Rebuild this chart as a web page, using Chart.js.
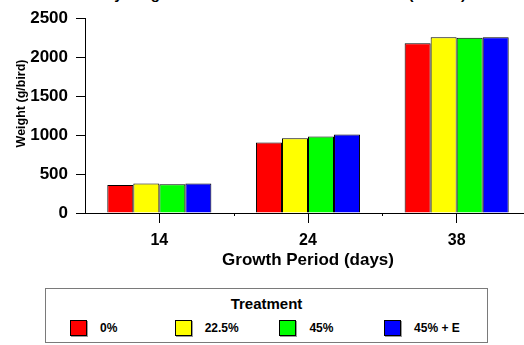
<!DOCTYPE html>
<html>
<head>
<meta charset="utf-8">
<script src="https://cdn.jsdelivr.net/npm/chart.js@4/dist/chart.umd.min.js"></script>
<style>
  html, body { margin:0; padding:0; background:#fff; }
  body { width:524px; height:345px; overflow:hidden; position:relative; font-family:"Liberation Sans", Arial, sans-serif; }
  #wrap { position:absolute; left:0; top:0; width:531px; height:275px; }
  #title { position:absolute; left:85px; top:-14px; font-weight:bold; font-size:15px; line-height:16px; white-space:nowrap; color:#000; }
  #legend { position:absolute; left:45px; top:288px; width:441px; height:53px; border:1px solid #7a7a7a; background:#fff; }
  #legend .lt { position:absolute; left:0; right:0; top:6px; text-align:center; font-weight:bold; font-size:15px; }
  #legend .it { position:absolute; top:31px; height:16px; }
  #legend .sw { position:absolute; left:0; top:0; width:15px; height:14px; border:1px solid #000; box-shadow:1px 1px 0 #9a9a9a; }
  #legend .lb { position:absolute; left:30px; top:0; font-weight:bold; font-size:12px; line-height:16px; white-space:nowrap; }
</style>
</head>
<body>
<div id="title">Body weight of broiler chickens fed the diets (means)</div>
<div id="wrap"><canvas id="c" width="531" height="275"></canvas></div>
<div id="legend"><div class="lt">Treatment</div></div>
<script>
const categories = ['14', '24', '38'];
const seriesNames = ['0%', '22.5%', '45%', '45% + E'];
const seriesColors = ['#ff0000', '#ffff00', '#00ff00', '#0000ff'];
const values0 = [360, 905, 2180];
const values225 = [378, 960, 2255];
const values45 = [368, 981, 2250];
const values45E = [380, 1006, 2255];
const yTicks = [0, 500, 1000, 1500, 2000, 2500];
const allValues = [values0, values225, values45, values45E];

const minorTicks = {
  id: 'minorTicks',
  afterDraw(chart) {
    const x = chart.scales.x, ctx = chart.ctx;
    ctx.save();
    ctx.strokeStyle = '#000';
    ctx.lineWidth = 1;
    for (let i = 0; i < categories.length - 1; i++) {
      const px = Math.round((x.getPixelForValue(i) + x.getPixelForValue(i + 1)) / 2) + 0.5;
      ctx.beginPath();
      ctx.moveTo(px, x.top);
      ctx.lineTo(px, x.top + 3);
      ctx.stroke();
    }
    ctx.restore();
  }
};

new Chart(document.getElementById('c'), {
  type: 'bar',
  data: {
    labels: categories,
    datasets: seriesNames.map((n, i) => ({
      label: n,
      data: allValues[i],
      backgroundColor: seriesColors[i],
      borderColor: '#000',
      borderWidth: 1,
      categoryPercentage: 0.70,
      barPercentage: 1.0
    }))
  },
  options: {
    responsive: false,
    animation: false,
    devicePixelRatio: 1,
    layout: { padding: { top: 15, left: 0, right: 0, bottom: 0 } },
    plugins: { legend: { display: false }, tooltip: { enabled: false }, title: { display: false } },
    scales: {
      x: {
        afterFit(s) { s.height = 62; },
        grid: { offset: false, drawOnChartArea: false, drawTicks: true, tickLength: 10, color: '#000' },
        border: { display: true, color: '#000', width: 1 },
        ticks: { color: '#000', font: { family: 'Liberation Sans', size: 16, weight: 'bold' }, padding: 8, maxRotation: 0 },
        title: { display: true, text: 'Growth Period (days)', color: '#000', font: { family: 'Liberation Sans', size: 17, weight: 'bold' }, padding: { top: 0, bottom: 4 } }
      },
      y: {
        min: 0, max: 2500,
        afterFit(s) { s.width = 85; },
        afterBuildTicks(s) { s.ticks = yTicks.map(v => ({ value: v })); },
        grid: { drawOnChartArea: false, drawTicks: true, tickLength: 9, color: '#000' },
        border: { display: true, color: '#000', width: 1 },
        ticks: { color: '#000', font: { family: 'Liberation Sans', size: 17, weight: 'bold' }, padding: 8, callback: v => String(v) },
        title: { display: true, text: '       Weight (g/bird)', color: '#000', font: { family: 'Liberation Sans', size: 12.5, weight: 'bold' }, padding: { top: 14, bottom: 0 } }
      }
    }
  },
  plugins: [minorTicks]
});

const lg = document.getElementById('legend');
seriesNames.forEach((n, i) => {
  const it = document.createElement('div');
  it.className = 'it';
  it.style.left = (24 + i * 104.7) + 'px';
  const sw = document.createElement('div');
  sw.className = 'sw';
  sw.style.background = seriesColors[i];
  const lb = document.createElement('div');
  lb.className = 'lb';
  lb.textContent = n;
  it.appendChild(sw);
  it.appendChild(lb);
  lg.appendChild(it);
});
</script>
</body>
</html>
